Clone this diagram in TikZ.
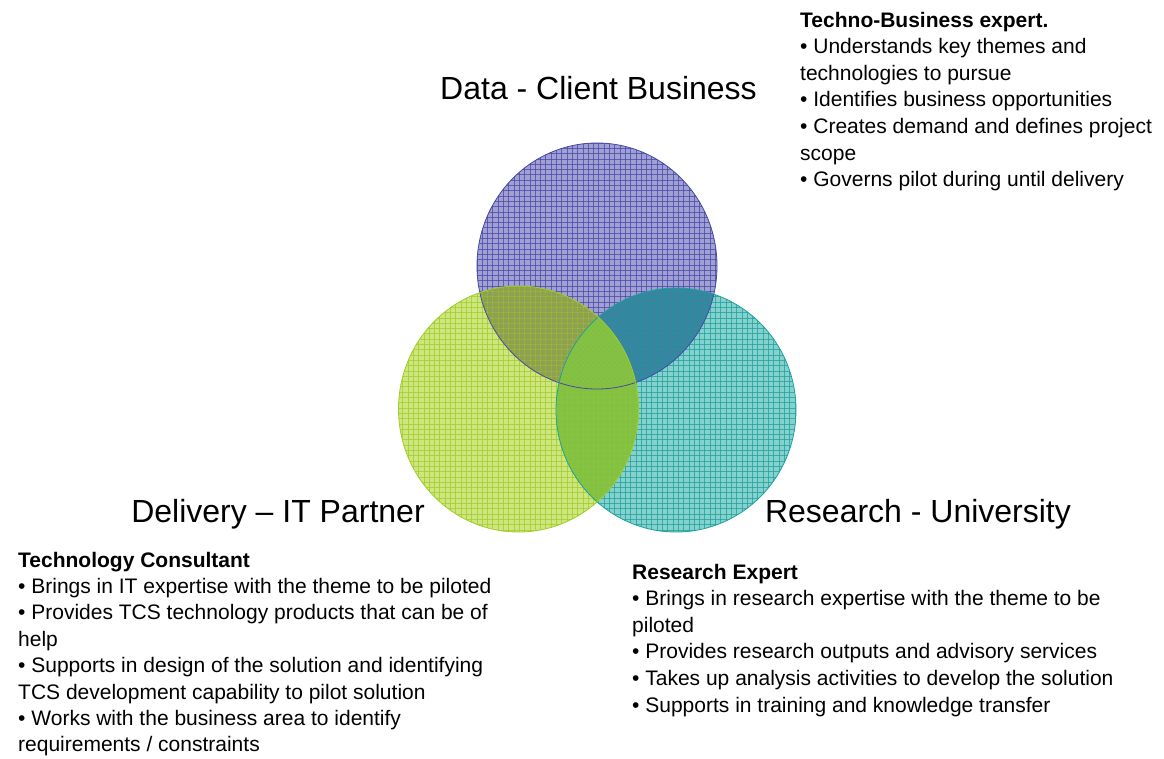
\documentclass[tikz,border=0pt]{standalone}
\usepackage{fontspec}
\setmainfont{Liberation Sans}
\definecolor{pfill}{RGB}{160,160,212}
\definecolor{pline}{RGB}{72,72,165}
\definecolor{gfill}{RGB}{206,230,128}
\definecolor{gline}{RGB}{162,204,42}
\definecolor{tfill}{RGB}{132,209,205}
\definecolor{tline}{RGB}{32,160,155}
\definecolor{colPG}{RGB}{145,160,80}
\definecolor{colPT}{RGB}{58,132,162}
\definecolor{colGT}{RGB}{130,193,66}
\begin{document}
\begin{tikzpicture}[x=1pt,y=-1pt,
  title/.style={font=\fontsize{32}{38}\selectfont, anchor=base, inner sep=0pt},
  body/.style={font=\fontsize{21}{26}\selectfont, anchor=base west, inner sep=0pt},
  bodyb/.style={font=\fontsize{21}{26}\selectfont\bfseries, anchor=base west, inner sep=0pt},
  gl/.style={line width=1pt, opacity=0.75},
  rim/.style={line width=0.8pt}]
\useasboundingbox (0,0) rectangle (1164,758);

% base fills
\fill[pfill] (597,266) ellipse [x radius=120pt, y radius=123pt];
\fill[tfill] (676,410) ellipse [x radius=120pt, y radius=122pt];
\fill[gfill] (518.5,409) ellipse [x radius=120pt, y radius=123pt];
% overlaps
\begin{scope}
  \clip (597,266) ellipse [x radius=120pt, y radius=123pt];
  \fill[colPT] (676,410) ellipse [x radius=120pt, y radius=122pt];
  \fill[colPG] (518.5,409) ellipse [x radius=120pt, y radius=123pt];
\end{scope}
\begin{scope}
  \clip (518.5,409) ellipse [x radius=120pt, y radius=123pt];
  \fill[colGT] (676,410) ellipse [x radius=120pt, y radius=122pt];
\end{scope}

% grids
\begin{scope}
  \clip (597,266) ellipse [x radius=120pt, y radius=123pt];
  \foreach \k in {89,...,137} \draw[gl, pline] ({5.3*\k},138) -- ({5.3*\k},394);
  \foreach \k in {26,...,75} \draw[gl, pline] (472,{5.3*\k}) -- (722,{5.3*\k});
\end{scope}
\begin{scope}
  \clip (676,410) ellipse [x radius=120pt, y radius=122pt];
  \foreach \k in {103,...,152} \draw[gl, tline] ({5.3*\k},284) -- ({5.3*\k},536);
  \foreach \k in {53,...,101} \draw[gl, tline] (552,{5.3*\k}) -- (800,{5.3*\k});
\end{scope}
\begin{scope}
  \clip (518.5,409) ellipse [x radius=120pt, y radius=123pt];
  \foreach \k in {74,...,122} \draw[gl, gline] ({5.3*\k},282) -- ({5.3*\k},536);
  \foreach \k in {53,...,101} \draw[gl, gline] (394,{5.3*\k}) -- (644,{5.3*\k});
\end{scope}
% rims
\draw[rim, pline] (597,266) ellipse [x radius=120pt, y radius=123pt];
\draw[rim, tline] (676,410) ellipse [x radius=120pt, y radius=122pt];
\draw[rim, gline] (518.5,409) ellipse [x radius=120pt, y radius=123pt];

% titles
\node[title] (tP) at (598.5,99.5) {Data - Client Business};
\node[title] (tG) at (278,522.5) {Delivery – IT Partner};
\node[title] (tT) at (918,522.5) {Research - University};

% top right text
\node[bodyb] (r0) at (800,27) {Techno-Business expert.};
\node[body] (r1) at (800,53.6) {• Understands key themes and};
\node[body] (r2) at (800,80.2) {technologies to pursue};
\node[body] (r3) at (800,106.8) {• Identifies business opportunities};
\node[body] (r4) at (800,133.4) {• Creates demand and defines project};
\node[body] (r5) at (800,160) {scope};
\node[body] (r6) at (800,186.6) {• Governs pilot during until delivery};

% bottom left text
\node[bodyb] (l0) at (18,567) {Technology Consultant};
\node[body] (l1) at (18,593.4) {• Brings in IT expertise with the theme to be piloted};
\node[body] (l2) at (18,619.8) {• Provides TCS technology products that can be of};
\node[body] (l3) at (18,646.2) {help};
\node[body] (l4) at (18,672.6) {• Supports in design of the solution and identifying};
\node[body] (l5) at (18,699) {TCS development capability to pilot solution};
\node[body] (l6) at (18,725.4) {• Works with the business area to identify};
\node[body] (l7) at (18,751.8) {requirements / constraints};

% bottom right text
\node[bodyb] (b0) at (632,579) {Research Expert};
\node[body] (b1) at (632,605.6) {• Brings in research expertise with the theme to be};
\node[body] (b2) at (632,632.2) {piloted};
\node[body] (b3) at (632,658.8) {• Provides research outputs and advisory services};
\node[body] (b4) at (632,685.4) {• Takes up analysis activities to develop the solution};
\node[body] (b5) at (632,712) {• Supports in training and knowledge transfer};
\end{tikzpicture}
\end{document}
